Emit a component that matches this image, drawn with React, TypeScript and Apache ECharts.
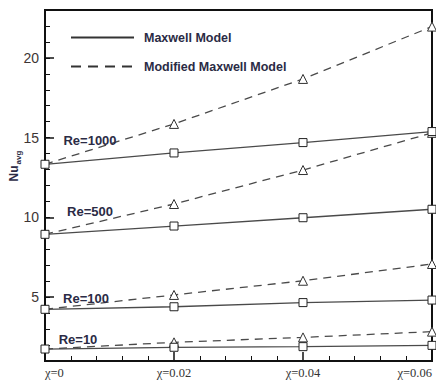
import React, { useEffect, useRef } from "react";
import * as echarts from "echarts";

const xValues = [0, 0.02, 0.04, 0.06];
const xTickLabels = ["χ=0", "χ=0.02", "χ=0.04", "χ=0.06"];
const reLabels = ["Re=1000", "Re=500", "Re=100", "Re=10"];

const maxwell1000 = [13.33, 14.04, 14.69, 15.38];
const modified1000 = [13.33, 15.86, 18.68, 21.96];
const maxwell500 = [8.94, 9.46, 9.98, 10.51];
const modified500 = [8.94, 10.84, 12.97, 15.3];
const maxwell100 = [4.24, 4.4, 4.66, 4.82];
const modified100 = [4.24, 5.14, 6.03, 7.08];
const maxwell10 = [1.75, 1.86, 1.9, 1.98];
const modified10 = [1.75, 2.17, 2.48, 2.84];

const legendNames = ["Maxwell Model", "Modified Maxwell Model"];

const labelOffsets = [
  [45, -24],
  [45, -23],
  [41, -11],
  [33, -10],
];

const TEXT_DARK = "#2b2b45";
const LINE_COLOR = "#4a4a4a";

export default function App() {
  const ref = useRef<HTMLDivElement>(null);

  useEffect(() => {
    if (!ref.current) return;
    const chart = echarts.init(ref.current, null, { renderer: "svg" });

    const groups = [
      { maxwell: maxwell1000, modified: modified1000 },
      { maxwell: maxwell500, modified: modified500 },
      { maxwell: maxwell100, modified: modified100 },
      { maxwell: maxwell10, modified: modified10 },
    ];

    const series: any[] = [
      {
        name: legendNames[0],
        type: "line",
        data: [],
        symbol: "none",
        lineStyle: { color: "#333", width: 1.3 },
        itemStyle: { color: "#333" },
      },
      {
        name: legendNames[1],
        type: "line",
        data: [],
        symbol: "none",
        lineStyle: { color: "#333", width: 1.3, type: [10, 7] },
        itemStyle: { color: "#333" },
      },
    ];

    groups.forEach((g, gi) => {
      series.push({
        name: "mod-" + reLabels[gi],
        type: "line",
        z: 2,
        symbol: "triangle",
        symbolSize: 9,
        itemStyle: { color: "#fff", borderColor: "#333", borderWidth: 1 },
        lineStyle: { color: LINE_COLOR, width: 1.3, type: [8, 6] },
        data: xValues.map((x, i) =>
          i === 0 ? { value: [x, g.modified[i]], symbol: "none" } : { value: [x, g.modified[i]] }
        ),
      });
    });

    groups.forEach((g, gi) => {
      series.push({
        name: "max-" + reLabels[gi],
        type: "line",
        z: 3,
        symbol: "rect",
        symbolSize: 8,
        itemStyle: { color: "#fff", borderColor: "#222", borderWidth: 1 },
        lineStyle: { color: LINE_COLOR, width: 1.3 },
        data: xValues.map((x, i) =>
          i === 0
            ? {
                value: [x, g.maxwell[i]],
                label: {
                  show: true,
                  formatter: reLabels[gi],
                  position: "inside",
                  offset: labelOffsets[gi],
                  fontFamily: "Liberation Sans, Arial, sans-serif",
                  fontWeight: "bold",
                  fontSize: 13,
                  color: TEXT_DARK,
                },
              }
            : { value: [x, g.maxwell[i]] }
        ),
      });
    });

    chart.setOption({
      animation: false,
      backgroundColor: "#fff",
      grid: {
        left: 45,
        right: 4,
        top: 10,
        bottom: 21,
        show: true,
        borderColor: "#111",
        borderWidth: 2,
        backgroundColor: "transparent",
      },
      legend: {
        data: legendNames,
        orient: "vertical",
        left: 65,
        top: 26,
        itemWidth: 63,
        itemHeight: 16,
        itemGap: 16,
        selectedMode: false,
        itemStyle: { opacity: 0 },
        textStyle: {
          fontFamily: "Liberation Sans, Arial, sans-serif",
          fontWeight: "bold",
          fontSize: 12.5,
          color: TEXT_DARK,
          padding: [0, 0, 0, 5],
        },
      },
      xAxis: {
        type: "value",
        min: 0,
        max: 0.06,
        interval: 0.02,
        axisLine: { show: true, lineStyle: { color: "#111", width: 2 } },
        axisTick: { show: true, inside: true, length: 9, lineStyle: { color: "#111", width: 1.5 } },
        minorTick: { show: true, splitNumber: 5, length: 5, lineStyle: { color: "#111", width: 1 } },
        splitLine: { show: false },
        minorSplitLine: { show: false },
        axisLabel: {
          formatter: (_v: number, i: number) => xTickLabels[i] ?? "",
          fontFamily: "Liberation Serif, Times New Roman, serif",
          fontSize: 12.5,
          color: "#333",
          margin: 5,
          alignMinLabel: "left",
          alignMaxLabel: "right",
        },
      },
      yAxis: [
        {
          type: "value",
          position: "left",
          min: 1,
          max: 23,
          splitNumber: 5,
          axisLine: { show: true, lineStyle: { color: "#111", width: 2 } },
          axisTick: { show: true, inside: true, length: 9, lineStyle: { color: "#111", width: 1.5 } },
          splitLine: { show: false },
          axisLabel: {
            formatter: (v: number) => (Math.abs(v % 5) < 1e-9 ? String(v) : ""),
            showMinLabel: false,
            showMaxLabel: false,
            fontFamily: "Liberation Sans, Arial, sans-serif",
            fontSize: 14,
            color: "#3d3535",
            margin: 6,
          },
        },
        {
          type: "value",
          position: "left",
          offset: 0,
          min: 1,
          max: 23,
          interval: 1,
          axisLine: { show: false },
          axisTick: { show: true, inside: true, length: 5, lineStyle: { color: "#111", width: 1 } },
          splitLine: { show: false },
          axisLabel: { show: false },
        },
      ],
      graphic: [
        {
          type: "text",
          x: 15,
          y: 166,
          rotation: Math.PI / 2,
          style: {
            text: "{a|Nu}{b|avg}",
            align: "center",
            verticalAlign: "middle",
            rich: {
              a: {
                fontFamily: "Liberation Sans, Arial, sans-serif",
                fontSize: 12,
                fontWeight: "bold",
                fill: TEXT_DARK,
                color: TEXT_DARK,
                verticalAlign: "bottom",
                padding: [0, 1, 3, 0],
              },
              b: {
                fontFamily: "Liberation Sans, Arial, sans-serif",
                fontSize: 8,
                fontWeight: "bold",
                fill: TEXT_DARK,
                color: TEXT_DARK,
                verticalAlign: "bottom",
              },
            },
          },
        },
      ],
      series,
    });

    return () => {
      chart.dispose();
    };
  }, []);

  return (
    <div
      ref={ref}
      style={{ position: "absolute", left: 0, top: 0, width: 436, height: 382 }}
    />
  );
}
